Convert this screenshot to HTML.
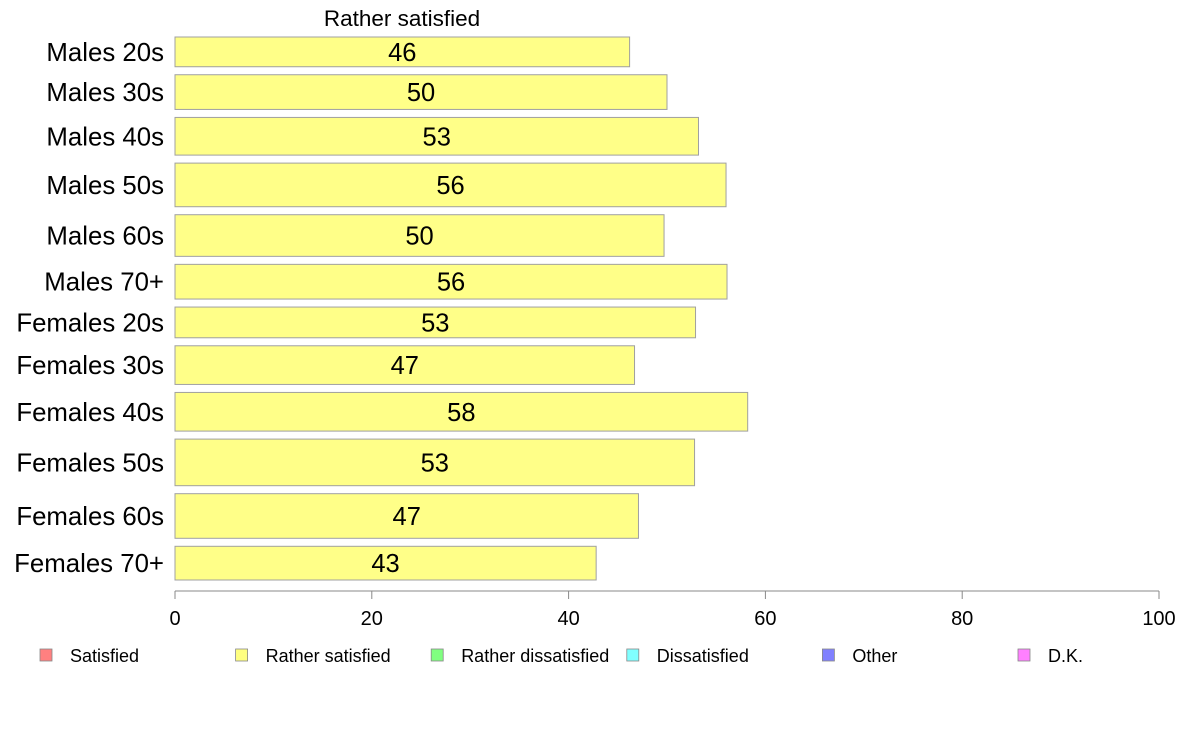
<!DOCTYPE html>
<html><head><meta charset="utf-8"><style>
body{margin:0;background:#fff;}
svg{display:block;font-family:"Liberation Sans",Arial,sans-serif;}
</style></head><body>
<svg id="chart" width="1188" height="736"></svg>
<script>
const categories=["Males 20s","Males 30s","Males 40s","Males 50s","Males 60s","Males 70+","Females 20s","Females 30s","Females 40s","Females 50s","Females 60s","Females 70+"];
const values=[46.2,50.0,53.2,56.0,49.7,56.1,52.9,46.7,58.2,52.8,47.1,42.8];
const labels=["46","50","53","56","50","56","53","47","58","53","47","43"];
const sampleSizes=[30,35,38,44,42,35,31,39,39,47,45,34];
const ticks=[0,20,40,60,80,100];
const legendItems=["Satisfied","Rather satisfied","Rather dissatisfied","Dissatisfied","Other","D.K."];
const legendColors=["#ff8080","#ffff80","#80ff80","#80ffff","#8080ff","#ff80ff"];

const NS="http://www.w3.org/2000/svg";
const svg=document.getElementById('chart');
function mk(t,a,p){const e=document.createElementNS(NS,t);for(const k in a)e.setAttribute(k,a[k]);(p||svg).appendChild(e);return e;}
const x0=175,x1=1159,yTop=37,yBot=580,gap=8;
const xs=v=>x0+(v/100)*(x1-x0);
const tot=sampleSizes.reduce((a,b)=>a+b,0);
const k=(yBot-yTop-gap*(categories.length-1))/tot;

const title=mk('text',{x:402,y:26,'text-anchor':'middle','font-size':22.5,fill:'#000'});


title.textContent="Rather satisfied";

let y=yTop;
categories.forEach((c,i)=>{
  const h=sampleSizes[i]*k;
  const r=mk('rect',{x:x0,y:y,width:xs(values[i])-x0,height:h,fill:'#ffff88',stroke:'#a0a0a0','stroke-width':1});
  
  
  const t=mk('text',{x:(x0+xs(values[i]))/2,y:y+h/2+9,'text-anchor':'middle','font-size':25.5,fill:'#000'});
  
  
  t.textContent=labels[i];
  const l=mk('text',{x:164,y:y+h/2+9,'text-anchor':'end','font-size':25.8,fill:'#000'});
  
  
  l.textContent=c;
  y+=h+gap;
});

const ax=mk('line',{x1:x0,y1:591,x2:x1,y2:591,stroke:'#888','stroke-width':1});


ticks.forEach(v=>{
  const tl=mk('line',{x1:xs(v),y1:591,x2:xs(v),y2:599,stroke:'#888'});
  
  
  const tt=mk('text',{x:xs(v),y:625,'text-anchor':'middle','font-size':20,fill:'#000'});
  
  
  tt.textContent=v;
});

legendItems.forEach((s,i)=>{
  const lx=40+i*195.6;
  const g=mk('g',{});
  
  
  mk('rect',{x:lx,y:649,width:12,height:12,fill:legendColors[i],stroke:'#888','stroke-width':0.8},g);
  const t=mk('text',{x:lx+30,y:662,'font-size':18,fill:'#000'},g);
  t.textContent=s;
});
</script>
</body></html>
